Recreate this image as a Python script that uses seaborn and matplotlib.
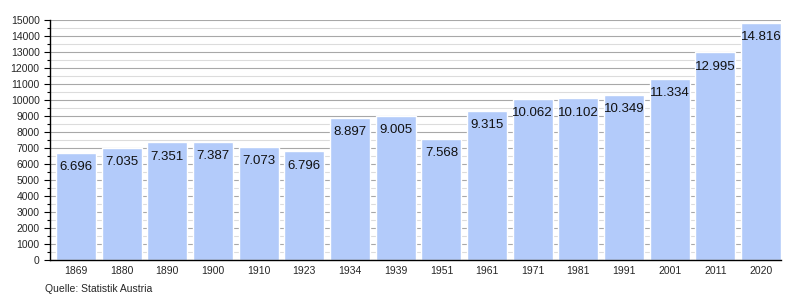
import matplotlib
matplotlib.use("Agg")
import matplotlib.pyplot as plt
import seaborn as sns
import pandas as pd
from matplotlib.ticker import MultipleLocator

years = ["1869", "1880", "1890", "1900", "1910", "1923", "1934", "1939",
         "1951", "1961", "1971", "1981", "1991", "2001", "2011", "2020"]
population = [6696, 7035, 7351, 7387, 7073, 6796, 8897, 9005,
              7568, 9315, 10062, 10102, 10349, 11334, 12995, 14816]
labels = ["6.696", "7.035", "7.351", "7.387", "7.073", "6.796", "8.897", "9.005",
          "7.568", "9.315", "10.062", "10.102", "10.349", "11.334", "12.995", "14.816"]

df = pd.DataFrame({"year": years, "pop": population})

sns.set_style("white")
plt.rcParams['font.family'] = ['Liberation Sans', 'DejaVu Sans']

fig = plt.figure(figsize=(8, 3), dpi=100)
ax = fig.add_axes([0.0625, 0.133, 0.914, 0.80])

sns.barplot(data=df, x="year", y="pop", color="#b3cbfa", saturation=1,
            width=0.875, ax=ax, zorder=2)

ax.set_xlim(-0.57, 15.44)
ax.set_ylim(0, 15000)
ax.yaxis.set_major_locator(MultipleLocator(1000))
ax.yaxis.set_minor_locator(MultipleLocator(500))
ax.grid(axis="y", which="major", color="#a8a8a8", linewidth=0.8, zorder=0)
ax.grid(axis="y", which="minor", color="#dcdcdc", linewidth=0.8, zorder=0)
ax.set_axisbelow(True)

for s in ["top", "right"]:
    ax.spines[s].set_visible(False)
for s in ["left", "bottom"]:
    ax.spines[s].set_color("black")
    ax.spines[s].set_linewidth(1.0)

ax.tick_params(axis="y", which="major", length=4, width=0.8, labelsize=7.5, left=True, color="black")
ax.tick_params(axis="y", which="minor", length=2, width=0.8, left=True, color="black")
ax.tick_params(axis="x", length=0, labelsize=7.5, pad=4)
ax.set_xlabel("")
ax.set_ylabel("")

for i, (v, lab) in enumerate(zip(population, labels)):
    ax.annotate(lab, (i, v), xytext=(0, -6), textcoords="offset points",
                ha="center", va="top", fontsize=9.5, color="#111111", zorder=3)

fig.text(0.056, 0.02, "Quelle: Statistik Austria", fontsize=7.5, ha="left", va="bottom")

fig.savefig("out.png", dpi=100, facecolor="white")
